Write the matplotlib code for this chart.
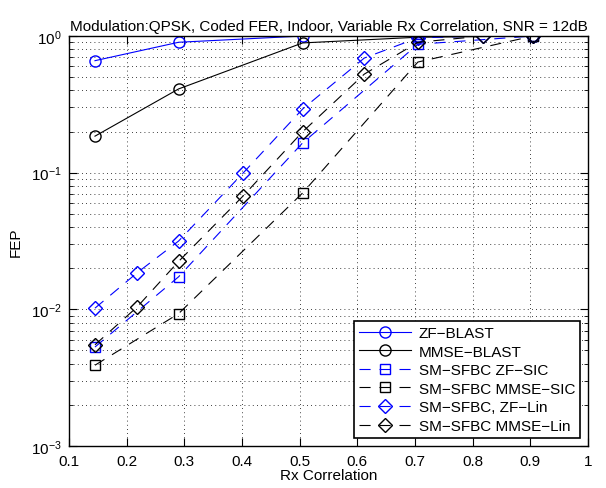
import matplotlib
matplotlib.use("Agg")
import matplotlib.pyplot as plt
from matplotlib.ticker import LogLocator, NullFormatter, FixedLocator

plt.rcParams['font.family'] = ['Liberation Sans', 'DejaVu Sans']

# data
x5 = [0.145, 0.29, 0.505, 0.705, 0.905]
x9 = [0.145, 0.218, 0.29, 0.402, 0.505, 0.612, 0.705, 0.818, 0.905]

zf_blast = [0.66, 0.90, 1.0, 1.0, 1.0]
mmse_blast = [0.185, 0.41, 0.89, 0.98, 1.0]
zf_sic = [0.0053, 0.0173, 0.165, 0.87, 1.0]
mmse_sic = [0.0039, 0.0093, 0.071, 0.645, 1.0]
zf_lin = [0.0102, 0.0185, 0.0316, 0.0995, 0.292, 0.69, 0.97, 1.0, 1.0]
mmse_lin = [0.0055, 0.0104, 0.0224, 0.0676, 0.199, 0.526, 0.90, 1.0, 1.0]

xticks = [0.1, 0.2, 0.3, 0.4, 0.5, 0.6, 0.7, 0.8, 0.9, 1]
xticklabels = ['0.1', '0.2', '0.3', '0.4', '0.5', '0.6', '0.7', '0.8', '0.9', '1']

blue = '#0000ff'
dash = (0, (10, 8))

fig = plt.figure(figsize=(6.06, 4.89), dpi=100)
ax = fig.add_axes([0.1139, 0.0859, 0.8564, 0.8384])

ax.semilogy(x5, zf_blast, '-', color=blue, marker='o', mfc='none', ms=8, lw=0.8, label='ZF\u2212BLAST')
ax.semilogy(x5, mmse_blast, '-', color='k', marker='o', mfc='none', ms=8, lw=0.8, label='MMSE\u2212BLAST')
ax.semilogy(x5, zf_sic, linestyle=dash, color=blue, marker='s', mfc='none', ms=7, lw=0.8, label='SM\u2212SFBC ZF\u2212SIC')
ax.semilogy(x5, mmse_sic, linestyle=dash, color='k', marker='s', mfc='none', ms=7, lw=0.8, label='SM\u2212SFBC MMSE\u2212SIC')
ax.semilogy(x9, zf_lin, linestyle=dash, color=blue, marker='D', mfc='none', ms=7, lw=0.8, label='SM\u2212SFBC, ZF\u2212Lin')
ax.semilogy(x9, mmse_lin, linestyle=dash, color='k', marker='D', mfc='none', ms=7, lw=0.8, label='SM\u2212SFBC MMSE\u2212Lin')

ax.set_xlim(0.1, 1)
ax.set_ylim(1e-3, 1)
ax.xaxis.set_major_locator(FixedLocator(xticks))
ax.set_xticklabels(xticklabels)
ax.yaxis.set_major_locator(LogLocator(base=10, numticks=10))
ax.yaxis.set_minor_locator(LogLocator(base=10, subs=range(2, 10), numticks=20))
ax.yaxis.set_minor_formatter(NullFormatter())

ax.grid(True, which='major', linestyle=(0, (1, 4)), color='k', lw=0.6)
ax.grid(True, which='minor', axis='y', linestyle=(0, (1, 4)), color='k', lw=0.6)
ax.tick_params(which='both', direction='in', top=True, right=True, labelsize=11)
ax.tick_params(which='major', length=6)
ax.tick_params(which='minor', length=3)
ax.tick_params(axis='x', pad=6)
ax.tick_params(axis='y', pad=5)
for s in ax.spines.values():
    s.set_linewidth(1.0)

ax.set_xlabel('Rx Correlation', fontsize=11, labelpad=0)
ax.set_ylabel('FEP', fontsize=11, labelpad=6)
ax.set_title('Modulation:QPSK, Coded FER, Indoor, Variable Rx Correlation, SNR = 12dB', fontsize=11, pad=4)

leg = ax.legend(loc='lower right', fontsize=11, fancybox=False, framealpha=1, edgecolor='k',
                handlelength=3.4, borderpad=0.35, labelspacing=0.3, handletextpad=0.5,
                borderaxespad=0.5)
leg.get_frame().set_linewidth(1.2)

fig.savefig('out.png', dpi=100)
